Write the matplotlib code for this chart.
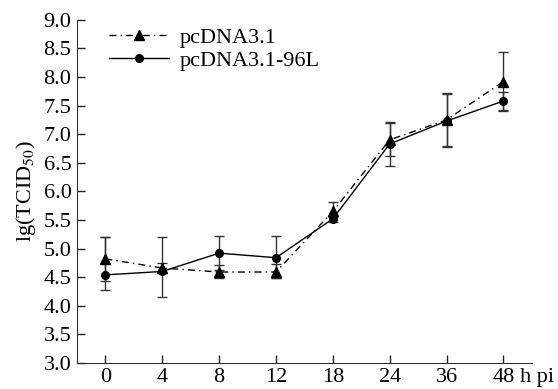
import numpy as np
from matplotlib import pyplot as plt

plt.rcParams['font.family'] = ['Liberation Serif', 'DejaVu Serif']
plt.rcParams['mathtext.fontset'] = 'stix'

# time points (h pi), shown as evenly spaced categories
hours = ['0', '4', '8', '12', '18', '24', '36', '48']

# pcDNA3.1 (triangles, dash-dot)
ctrl_mean = [4.82, 4.66, 4.59, 4.59, 5.65, 6.90, 7.25, 7.92]
ctrl_lo = [0.38, 0.08, 0.10, 0.10, 0.10, 0.28, 0.46, 0.52]
ctrl_hi = [0.38, 0.08, 0.12, 0.14, 0.17, 0.30, 0.47, 0.52]

# pcDNA3.1-96L (circles, solid)
mut_mean = [4.54, 4.60, 4.92, 4.84, 5.52, 6.83, 7.23, 7.58]
mut_lo = [0.26, 0.45, 0.30, 0.35, 0.05, 0.38, 0.45, 0.15]
mut_hi = [0.66, 0.60, 0.30, 0.38, 0.05, 0.38, 0.47, 0.15]

x = np.arange(len(hours))

fig = plt.figure(figsize=(5.58, 3.89), dpi=100)
ax = fig.add_axes([0.138, 0.067, 0.815, 0.882])

ax.errorbar(x, ctrl_mean, yerr=[ctrl_lo, ctrl_hi], fmt='none', ecolor='#333333',
            elinewidth=1, capsize=3.5, capthick=1)
ax.errorbar(x, mut_mean, yerr=[mut_lo, mut_hi], fmt='none', ecolor='#333333',
            elinewidth=1, capsize=3.5, capthick=1)
ax.plot(x, ctrl_mean, color='black', linestyle=(0, (5, 3, 1, 3)), linewidth=1,
        marker='^', markersize=7, label='pcDNA3.1')
ax.plot(x, mut_mean, color='black', linestyle='-', linewidth=1,
        marker='o', markersize=5.5, label='pcDNA3.1-96L')

ax.set_xlim(-0.5, 7.5)
ax.set_ylim(3.0, 9.0)
ax.set_xticks(x)
ax.set_xticklabels(hours)
yt = np.arange(3.0, 9.01, 0.5)
ax.set_yticks(yt)
ax.set_yticklabels(['%.1f' % v for v in yt])
ax.tick_params(direction='in', length=6, width=1, labelsize=16, pad=4,
               colors='#222222', labelcolor='black')
for s in ['left', 'bottom']:
    ax.spines[s].set_color('#333333')
ax.spines['top'].set_visible(False)
ax.spines['right'].set_visible(False)

ax.set_ylabel('lg(TCID$_{50}$)', fontsize=16, labelpad=4)
ax.annotate('h pi', xy=(7.3, 0), xycoords=('data', 'axes fraction'),
            xytext=(0, -4), textcoords='offset points',
            fontsize=16, ha='left', va='top', annotation_clip=False)

ax.legend(loc='upper left', frameon=False, fontsize=16, handlelength=2.7,
          handletextpad=0.5, borderaxespad=0.0, borderpad=0.2,
          bbox_to_anchor=(0.06, 0.99), labelspacing=0.1)

plt.savefig('out.png', dpi=100)
